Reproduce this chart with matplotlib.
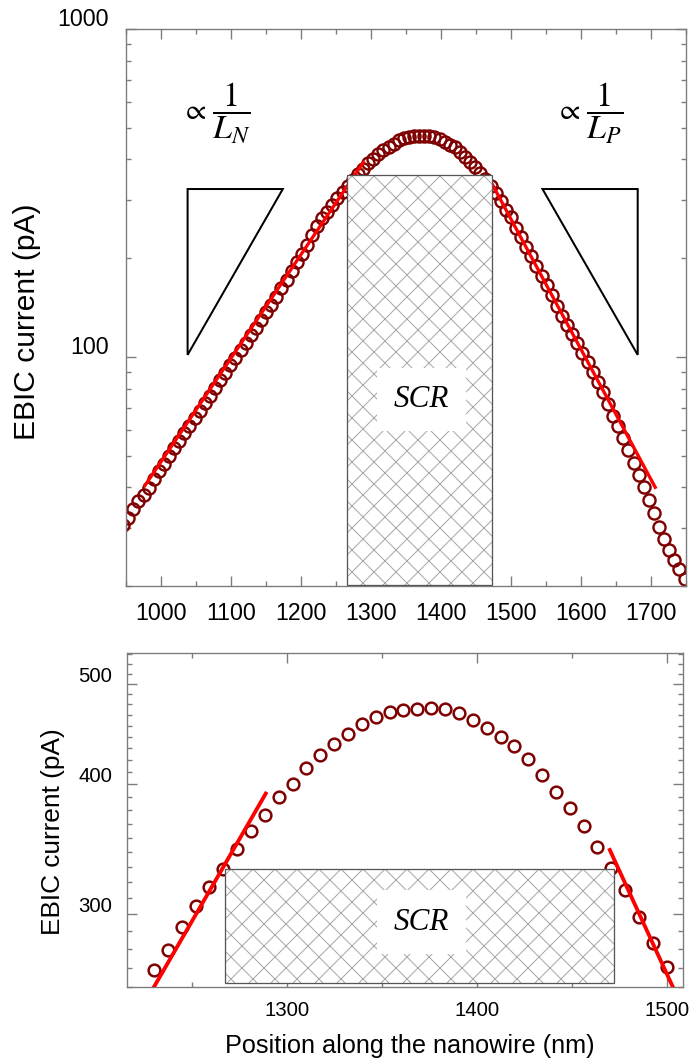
import numpy as np
import matplotlib.pyplot as plt
import matplotlib.transforms as mtransforms
from matplotlib.patches import Rectangle, Polygon
from matplotlib.ticker import FixedLocator, MultipleLocator, LogLocator, NullFormatter

DPI = 132
plt.rcParams['font.family'] = ['Liberation Sans', 'DejaVu Sans']
plt.rcParams['mathtext.fontset'] = 'stix'
plt.rcParams['hatch.linewidth'] = 0.55
plt.rcParams['hatch.color'] = '#a8a8a8'

# EBIC line scan (position in nm, current in pA)
pos_nm = [945.9, 953.2, 960.5, 967.8, 975.1, 982.4, 989.7, 997.0, 1004.2, 1011.5,
          1018.8, 1026.1, 1033.4, 1040.7, 1048.0, 1055.3, 1062.6, 1069.9, 1077.2, 1084.5,
          1091.8, 1099.1, 1106.4, 1113.7, 1121.0, 1128.3, 1135.5, 1142.8, 1150.1, 1157.4,
          1164.7, 1172.0, 1179.3, 1186.6, 1193.9, 1201.2, 1208.5, 1215.8, 1223.1,
          1230.2, 1237.5, 1244.8, 1252.1, 1259.4, 1266.7, 1273.9, 1281.2, 1288.5, 1295.8,
          1303.1, 1310.4, 1317.7, 1325.0, 1332.3, 1339.6, 1346.8, 1354.1, 1361.4, 1368.7,
          1376.0, 1383.3, 1390.6, 1397.9, 1405.2, 1412.5, 1419.7, 1427.0, 1434.3, 1441.6,
          1448.9, 1456.2, 1463.5, 1470.8, 1478.1, 1485.4, 1492.6, 1499.9,
          1507.2, 1514.5, 1521.8, 1529.1, 1536.4, 1543.7, 1551.0, 1558.2, 1565.5, 1572.8,
          1580.1, 1587.4, 1594.7, 1602.0, 1609.3, 1616.6, 1623.9, 1631.2, 1638.5, 1645.8,
          1653.1, 1660.4, 1667.7, 1675.0, 1682.3, 1689.6, 1696.9, 1704.2, 1711.5, 1718.8,
          1726.1, 1733.4, 1740.7, 1748.0]
ebic_pa = [30.8, 32.2, 34.4, 36.3, 38.0, 39.8, 42.3, 44.8, 47.1, 49.8,
           52.6, 55.4, 58.4, 61.6, 64.9, 68.5, 72.2, 76.2, 80.3, 84.7,
           89.3, 94.2, 99.3, 104.8, 110.4, 116.5, 122.8, 129.5, 136.6, 144.1,
           152.6, 162.0, 172.0, 182.5, 194.0, 206.0, 220.0, 234.5, 250.0,
           265.2, 277.2, 291.5, 305.8, 318.9, 331.8, 347.1, 360.9, 373.6, 389.2,
           400.8, 414.4, 426.7, 437.9, 447.0, 457.0, 464.4, 469.6, 472.1, 472.4,
           473.2, 472.4, 468.5, 461.0, 453.6, 444.3, 435.3, 422.9, 408.2, 393.5,
           379.8, 364.7, 347.9, 332.1, 316.6, 298.4, 281.4, 266.9,
           248.0, 232.0, 217.0, 203.0, 189.5, 177.0, 165.5, 154.5, 143.0, 133.5,
           125.0, 117.5, 110.0, 103.0, 96.5, 90.0, 84.0, 78.0, 72.0, 66.0,
           61.5, 56.5, 52.0, 47.5, 43.5, 40.0, 36.5, 33.3, 30.2, 27.8,
           25.8, 24.0, 22.5, 21.0]

# exponential fits (straight on log axis)
fit_n_x = [977, 1289]
fit_n_y = [40.5, 392.0]
fit_p_x = [1470, 1706]
fit_p_y = [346.0, 40.0]

# slope triangles
tri_n = [(1038, 325), (1174, 325), (1038, 101.4)]
tri_p = [(1545, 325), (1681, 325), (1681, 101.4)]

dark_red = '#7f0000'
gray = '#7c7c7c'
W, H = 691, 1064

fig = plt.figure(figsize=(W / DPI, H / DPI), dpi=DPI)
ax1 = fig.add_axes([126 / W, 1 - 586 / H, 560 / W, 557 / H])
ax2 = fig.add_axes([127 / W, 1 - 987 / H, 556 / W, 334 / H])


def style(ax, fs, xpad, ypad):
    for s in ax.spines.values():
        s.set_color(gray)
        s.set_linewidth(0.75)
    ax.tick_params(which='both', direction='in', top=True, right=True,
                   color=gray, width=0.75, labelsize=fs)
    ax.tick_params(which='major', length=5.6)
    ax.tick_params(which='minor', length=2.8)
    ax.tick_params(axis='x', pad=xpad)
    ax.tick_params(axis='y', pad=ypad)


def shift_ylabels(ax, dy):
    off = mtransforms.ScaledTranslation(0, dy / DPI, fig.dpi_scale_trans)
    for lab in ax.get_yticklabels():
        lab.set_transform(lab.get_transform() + off)


def scr_box(ax, x0, x1, y0, y1, tx, ty):
    ax.add_patch(Rectangle((x0, y0), x1 - x0, y1 - y0, facecolor='white',
                           edgecolor='#a8a8a8', lw=0, hatch='xx', zorder=4))
    ax.add_patch(Rectangle((x0, y0), x1 - x0, y1 - y0, facecolor='none',
                           edgecolor='#555555', lw=0.7, zorder=4.1))
    ax.text(tx, ty, 'SCR', family='Liberation Serif', style='italic', fontsize=17,
            ha='center', va='center', zorder=5,
            bbox=dict(boxstyle='square,pad=0.55', fc='white', ec='none'))


def slope_label(px, py, sub):
    # proportional sign and fraction, placed in figure pixels
    fig.text((px - 37) / W, 1 - py / H, r'$\propto$', fontsize=16, ha='center', va='center')
    fig.text(px / W, 1 - (py + 2) / H, r'$\dfrac{1}{L_%s}$' % sub, fontsize=18.5,
             ha='center', va='center')


# ---- top panel: log scale
ax1.plot(pos_nm, ebic_pa, 'o', mfc='none', mec=dark_red, mew=1.3, ms=6.6, zorder=2)
ax1.plot(fit_n_x, fit_n_y, color='red', lw=1.8, zorder=3)
ax1.plot(fit_p_x, fit_p_y, color='red', lw=1.8, zorder=3)
ax1.add_patch(Polygon(tri_n, closed=True, fill=False, ec='black', lw=1.1, zorder=3))
ax1.add_patch(Polygon(tri_p, closed=True, fill=False, ec='black', lw=1.1, zorder=3))
slope_label(231, 111, 'N')
slope_label(605, 111, 'P')
scr_box(ax1, 1266, 1472.4, 20.1, 359, 1372, 74)

ax1.set_yscale('log')
ax1.set_xlim(950, 1750)
ax1.set_ylim(20, 1000)
ax1.xaxis.set_major_locator(MultipleLocator(100))
ax1.xaxis.set_minor_locator(MultipleLocator(50))
ax1.set_yticks([100, 1000], labels=['100', '1000'])
ax1.yaxis.set_minor_locator(LogLocator(subs=np.arange(2, 10)))
ax1.yaxis.set_minor_formatter(NullFormatter())
style(ax1, 12.6, 9.0, 9.6)
ax1.set_ylabel('EBIC current (pA)', fontsize=16.4)
ax1.yaxis.set_label_coords(-0.176, 0.474)
ax1.yaxis.label.set_va('center')
shift_ylabels(ax1, 12)

# ---- bottom panel: zoom on the junction
ax2.plot(pos_nm, ebic_pa, 'o', mfc='none', mec=dark_red, mew=1.35, ms=6.4, zorder=2)
ax2.plot(fit_n_x, fit_n_y, color='red', lw=2.1, zorder=3)
ax2.plot(fit_p_x, fit_p_y, color='red', lw=2.1, zorder=3)
scr_box(ax2, 1267.4, 1472.1, 257.6, 331.8, 1371, 295)

ax2.set_yscale('log')
ax2.set_xlim(1216, 1508.5)
ax2.set_ylim(255.5, 535)
ax2.set_xticks([1300, 1400, 1500], labels=['1300', '1400', '1500'])
ax2.xaxis.set_minor_locator(MultipleLocator(50))
ax2.set_yticks([300, 400, 500], labels=['300', '400', '500'])
ax2.yaxis.set_minor_locator(FixedLocator([200 + k * 100 / 9 for k in range(1, 36) if k % 9]))
ax2.yaxis.set_minor_formatter(NullFormatter())
style(ax2, 11.1, 7.4, 8.0)
ax2.set_ylabel('EBIC current (pA)', fontsize=14.3)
ax2.yaxis.set_label_coords(-0.133, 0.464)
ax2.yaxis.label.set_va('center')
ax2.set_xlabel('Position along the nanowire (nm)', fontsize=13.8)
ax2.xaxis.set_label_coords(0.509, -0.178)
ax2.xaxis.label.set_va('center')
shift_ylabels(ax2, 9.5)

fig.savefig('out.png', dpi=DPI)
